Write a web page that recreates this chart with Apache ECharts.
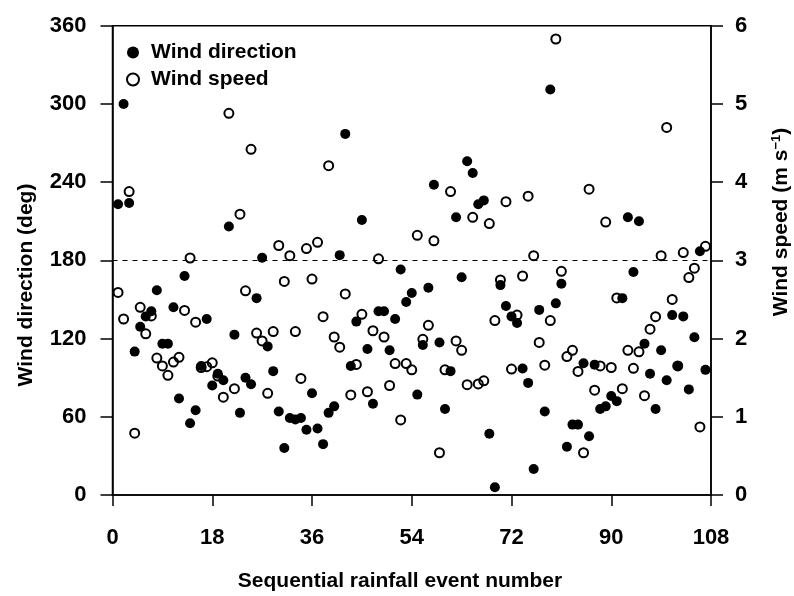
<!DOCTYPE html>
<html>
<head>
<meta charset="utf-8">
<script src="https://cdn.jsdelivr.net/npm/echarts@6/dist/echarts.min.js"></script>
<style>
html,body{margin:0;padding:0;background:#fff;}
#chart{width:794px;height:596px;}
</style>
</head>
<body>
<div id="chart"></div>
<script>
// Sequential rainfall event numbers
var eventNumber = [1,2,3,4,5,6,7,8,9,10,11,12,13,14,15,16,17,18,19,20,21,22,23,24,25,26,27,28,29,30,31,32,33,34,35,36,37,38,39,40,41,42,43,44,45,46,47,48,49,50,51,52,53,54,55,56,57,58,59,60,61,62,63,64,65,66,67,68,69,70,71,72,73,74,75,76,77,78,79,80,81,82,83,84,85,86,87,88,89,90,91,92,93,94,95,96,97,98,99,100,101,102,103,104,105,106,107];
// Wind direction (deg), left axis
var windDirection = [223,300,224,110,129,137,141,157,116,116,144,74,168,55,65,99,135,84,93,88,206,123,63,90,85,151,182,114,95,64,36,59,58,59,50,78,51,39,63,68,184,277,99,133,211,112,70,141,141,111,135,173,148,155,77,115,159,238,117,66,95,213,167,256,247,223,226,47,6,161,145,137,132,97,86,20,142,64,311,147,162,37,54,54,101,45,100,66,68,76,72,151,213,171,210,116,93,66,111,88,138,99,137,81,121,187,96];
// Wind speed (m s-1), right axis
var windSpeed = [2.59,2.25,3.88,0.79,2.40,2.06,2.29,1.75,1.65,1.53,1.70,1.76,2.36,3.03,2.21,1.63,1.64,1.69,1.52,1.25,4.88,1.36,3.59,2.61,4.42,2.07,1.97,1.30,2.09,3.19,2.73,3.06,2.09,1.49,3.15,2.76,3.23,2.28,4.21,2.02,1.89,2.57,1.28,1.67,2.31,1.32,2.10,3.02,2.02,1.40,1.68,0.96,1.68,1.60,3.32,1.99,2.17,3.25,0.54,1.60,3.88,1.97,1.85,1.41,3.55,1.42,1.46,3.47,2.23,2.75,3.75,1.61,2.30,2.80,3.82,3.06,1.95,1.66,2.23,5.83,2.86,1.77,1.85,1.58,0.54,3.91,1.34,1.65,3.49,1.63,2.52,1.36,1.85,1.62,1.83,1.27,2.12,2.28,3.06,4.70,2.50,1.65,3.10,2.78,2.90,0.87,3.18];
var xTicks = [0,18,36,54,72,90,108];
var dirTicks = [0,60,120,180,240,300,360];
var spdTicks = [0,1,2,3,4,5,6];
var referenceDirection = 180;

var FONT = "'Liberation Sans', Arial, Helvetica, sans-serif";
function pairs(xs, ys){ var o=[]; for(var i=0;i<xs.length;i++){o.push([xs[i],ys[i]]);} return o; }

var chart = echarts.init(document.getElementById('chart'), null, {renderer:'canvas'});
var labelStyle = {color:'#000', fontFamily:FONT, fontWeight:'bold', fontSize:22};
chart.setOption({
  animation:false,
  backgroundColor:'#fff',
  grid:{left:112.5, right:83, top:25.7, bottom:101, show:true, borderColor:'#000', borderWidth:1.5, containLabel:false, outerBoundsMode:'none'},
  legend:{
    data:['Wind direction','Wind speed'], orient:'vertical', left:121, top:37,
    itemWidth:12, itemHeight:12, itemGap:6,
    textStyle:{color:'#000', fontFamily:FONT, fontWeight:'bold', fontSize:21, padding:[0,0,0,7]}
  },
  xAxis:{
    type:'value', min:xTicks[0], max:xTicks[xTicks.length-1], interval:18,
    axisLine:{onZero:false, lineStyle:{color:'#000', width:1.5}},
    axisTick:{length:11, lineStyle:{color:'#000', width:1.5}},
    axisLabel:Object.assign({margin:32, showMinLabel:true, showMaxLabel:true}, labelStyle),
    splitLine:{show:false}
  },
  yAxis:[{
    type:'value', min:dirTicks[0], max:dirTicks[dirTicks.length-1], interval:60, position:'left',
    axisLine:{show:true, onZero:false, lineStyle:{color:'#000', width:1.5}},
    axisTick:{show:true, length:12, lineStyle:{color:'#000', width:1.5}},
    axisLabel:Object.assign({margin:26}, labelStyle),
    splitLine:{show:false}
  },{
    type:'value', min:spdTicks[0], max:spdTicks[spdTicks.length-1], interval:1, position:'right',
    axisLine:{show:true, onZero:false, lineStyle:{color:'#000', width:1.5}},
    axisTick:{show:true, length:12, lineStyle:{color:'#000', width:1.5}},
    axisLabel:Object.assign({margin:24}, labelStyle),
    splitLine:{show:false}
  }],
  series:[{
    name:'Wind direction', type:'scatter', yAxisIndex:0, z:3,
    symbol:'circle', symbolSize:10,
    itemStyle:{color:'#000', opacity:1},
    emphasis:{disabled:true},
    data:pairs(eventNumber, windDirection),
    markLine:{
      silent:true, symbol:['none','none'], label:{show:false},
      lineStyle:{color:'#000', type:[5,5], width:1.2, opacity:1},
      data:[{yAxis:referenceDirection}]
    }
  },{
    name:'Wind speed', type:'scatter', yAxisIndex:1, z:2,
    symbol:'circle', symbolSize:9,
    itemStyle:{color:'rgba(255,255,255,0)', borderColor:'#000', borderWidth:2, opacity:1},
    emphasis:{disabled:true},
    data:pairs(eventNumber, windSpeed)
  }],
  graphic:[{
    type:'text', x:26, y:285, rotation:Math.PI/2,
    style:{text:'Wind direction (deg)', fill:'#000', font:'bold 21px '+FONT, align:'center', verticalAlign:'middle'}
  },{
    type:'text', x:781, y:222, rotation:Math.PI/2,
    style:{text:'Wind speed (m s{sup|\u22121})', fill:'#000', font:'bold 21px '+FONT, align:'center', verticalAlign:'middle',
      rich:{sup:{fill:'#000', fontFamily:FONT, fontWeight:'bold', fontSize:13, verticalAlign:'top', padding:[0,0,10,0]}}}
  },{
    type:'text', x:400, y:581,
    style:{text:'Sequential rainfall event number', fill:'#000', font:'bold 21px '+FONT, align:'center', verticalAlign:'middle'}
  }]
});
</script>
</body>
</html>
